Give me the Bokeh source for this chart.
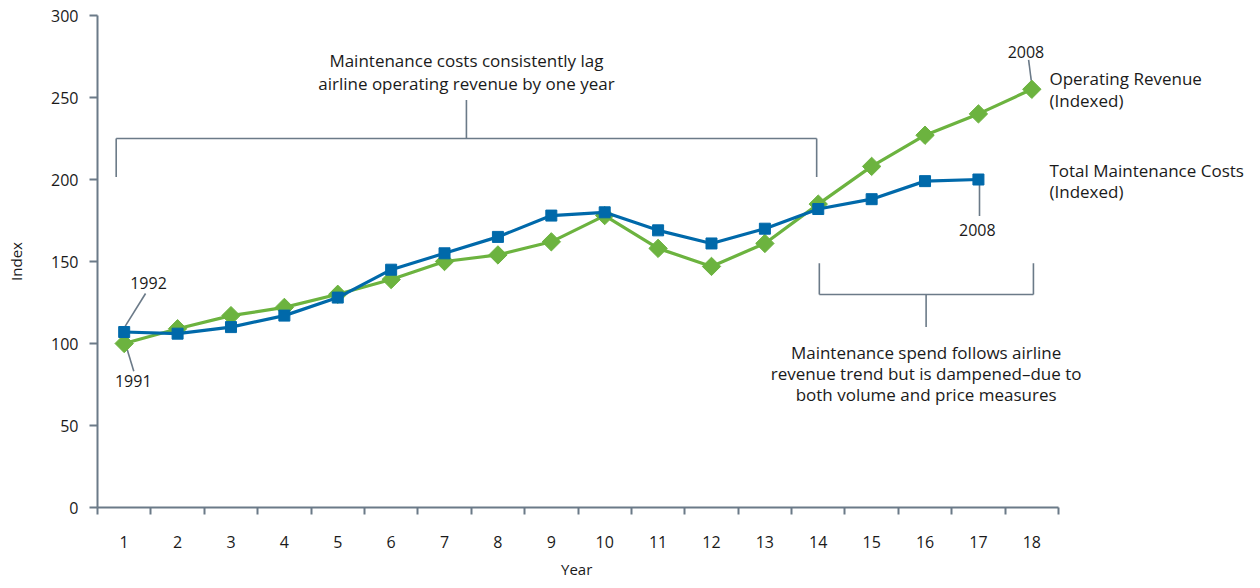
import math
from bokeh.plotting import figure
from bokeh.models import Range1d, FixedTicker, Label, Title
from bokeh.embed import file_html
from bokeh.resources import INLINE

# ---- data ----
years_rev = list(range(1, 19))
revenue = [100, 109, 117, 122, 130, 139, 150, 154, 162, 178, 158, 147, 161, 185, 208, 227, 240, 255]
years_cost = list(range(1, 18))
maint_cost = [107, 106, 110, 117, 128, 145, 155, 165, 178, 180, 169, 161, 170, 182, 188, 199, 200]
x_tick_labels = [str(i) for i in range(1, 19)]
y_ticks = [0, 50, 100, 150, 200, 250, 300]

GREEN = "#6cb33f"
BLUE = "#0069aa"
GRAY = "#6b7a88"
TXT = "#1a1a1a"
FONT = "Open Sans"

W, H = 1256, 587
FRAME_L = 97
AXIS_R = 1058
p = figure(width=W, height=H, x_range=Range1d(0.5, 0.5 + (W - FRAME_L) / 53.39), y_range=Range1d(0, 300),
           output_backend="svg", toolbar_location=None,
           min_border_left=FRAME_L, min_border_right=0, min_border_top=15, min_border_bottom=80)
p.outline_line_color = None
p.xgrid.grid_line_color = None
p.ygrid.grid_line_color = None
p.background_fill_color = "white"
p.border_fill_color = "white"

# x axis: labels at centers, ticks at boundaries
xa = p.xaxis[0]
xa.bounds = (0.5, 18.5)
xa.ticker = FixedTicker(ticks=years_rev, minor_ticks=[i + 0.5 for i in range(0, 19)])
xa.major_label_overrides = {i + 1: lab for i, lab in enumerate(x_tick_labels)}
xa.major_tick_out = 0
xa.major_tick_in = 0
xa.minor_tick_out = 7
xa.minor_tick_in = 0
xa.minor_tick_line_color = GRAY
xa.minor_tick_line_width = 2
xa.axis_line_color = GRAY
xa.axis_line_width = 2
xa.major_label_standoff = 21
xa.major_label_text_font = FONT
xa.major_label_text_font_size = "16px"
xa.major_label_text_color = TXT

# x-axis title centred under the axis (not under the wider frame)
axis_center = (FRAME_L + AXIS_R) / 2
p.add_layout(Title(text="Year", align="left", offset=axis_center - FRAME_L - 17,
                   text_font=FONT, text_font_size="15px", text_font_style="normal",
                   text_color=TXT, standoff=12), "below")

ya = p.yaxis[0]
ya.bounds = (0, 300)
ya.ticker = FixedTicker(ticks=y_ticks, minor_ticks=[])
ya.major_tick_out = 8
ya.major_tick_in = 0
ya.major_tick_line_color = GRAY
ya.major_tick_line_width = 2
ya.axis_line_color = GRAY
ya.axis_line_width = 2
ya.major_label_standoff = 11
ya.major_label_text_font = FONT
ya.major_label_text_font_size = "16px"
ya.major_label_text_color = TXT
ya.axis_label = "Index"
ya.axis_label_text_font = FONT
ya.axis_label_text_font_size = "15px"
ya.axis_label_text_font_style = "normal"
ya.axis_label_text_color = TXT
ya.axis_label_standoff = 22

# ---- annotation lines (brackets / leaders) ----
seg_x0 = [0.85, 0.85, 13.97, 7.41, 14.02, 14.02, 18.03, 16.02,
          1.40, 1.056, 17.94, 17.02]
seg_y0 = [201.6, 225, 225, 225, 148.9, 129.9, 148.9, 129.9,
          130.5, 96.3, 272.9, 196.7]
seg_x1 = [0.85, 13.97, 13.97, 7.41, 14.02, 18.03, 18.03, 16.02,
          1.02, 1.18, 17.99, 17.02]
seg_y1 = [225, 225, 201.6, 248.4, 129.9, 129.9, 129.9, 110.1,
          110.6, 83.1, 260.2, 177.8]
p.segment(seg_x0, seg_y0, seg_x1, seg_y1, line_color=GRAY, line_width=1.6)

# ---- series ----
p.line(years_rev, revenue, line_color=GREEN, line_width=3.2)
p.scatter(years_rev, revenue, marker="square", angle=math.pi / 4, size=13,
          fill_color=GREEN, line_color=GREEN)
p.line(years_cost, maint_cost, line_color=BLUE, line_width=3.2)
p.scatter(years_cost, maint_cost, marker="square", size=11, fill_color=BLUE, line_color=BLUE)

def lab(x, y, t, align="center", size="17px"):
    p.add_layout(Label(x=x, y=y, text=t, text_align=align, text_baseline="middle",
                       text_font=FONT, text_font_size=size, text_color=TXT))

lab(7.41, 272.4, "Maintenance costs consistently lag")
lab(7.41, 258.3, "airline operating revenue by one year")
lab(16.02, 94.3, "Maintenance spend follows airline")
lab(16.02, 82.0, "revenue trend but is dampened\u2013due to")
lab(16.02, 69.2, "both volume and price measures")
lab(18.33, 261.4, "Operating Revenue", align="left")
lab(18.33, 248.0, "(Indexed)", align="left")
lab(18.33, 205.3, "Total Maintenance Costs", align="left")
lab(18.33, 192.4, "(Indexed)", align="left")
lab(1.455, 137.0, "1992", size="16px")
lab(1.17, 77.4, "1991", size="16px")
lab(17.89, 277.5, "2008", size="16px")
lab(16.98, 169.5, "2008", size="16px")

open("out.html", "w").write(file_html(p, INLINE))
